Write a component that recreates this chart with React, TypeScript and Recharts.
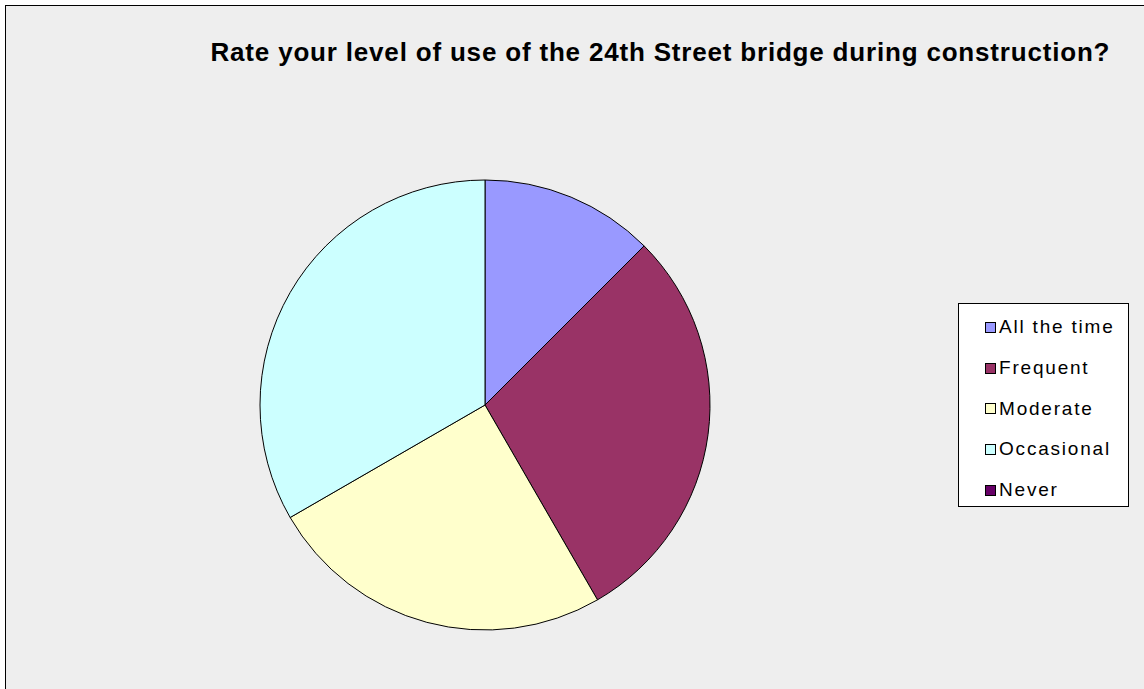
import { PieChart, Pie, Cell, Legend } from 'recharts';

const categories = ['All the time', 'Frequent', 'Moderate', 'Occasional', 'Never'];
const responses = [3, 7, 6, 8, 0];
const colors = ['#9999FF', '#993366', '#FFFFCC', '#CCFFFF', '#660066'];
const title = 'Rate your level of use of the 24th Street bridge during construction?';

const data = categories.map((name, i) => ({ name, value: responses[i] }));

function LegendBox() {
  return (
    <div
      style={{
        width: 171,
        height: 204,
        border: '1px solid #000',
        background: '#fff',
        boxSizing: 'border-box',
        paddingTop: 3,
        fontFamily: '"Liberation Sans", Arial, sans-serif',
        fontSize: 19,
        letterSpacing: 1.8,
        color: '#000',
      }}
    >
      {categories.map((c, i) => (
        <div key={c} style={{ display: 'flex', alignItems: 'center', height: 40.7, paddingLeft: 26 }}>
          <span
            style={{
              display: 'inline-block',
              width: 9,
              height: 9,
              background: colors[i],
              border: '1px solid #000',
              marginRight: 3,
              flexShrink: 0,
            }}
          />
          <span style={{ whiteSpace: 'nowrap' }}>{c}</span>
        </div>
      ))}
    </div>
  );
}

export default function App() {
  return (
    <div style={{ position: 'fixed', left: 0, top: 0, width: 1144, height: 689, background: '#fff', overflow: 'hidden' }}>
      <div
        style={{
          position: 'absolute',
          left: 5,
          top: 5,
          width: 1160,
          height: 700,
          background: '#EEEEEE',
          borderLeft: '1px solid #000',
          borderTop: '1px solid #000',
        }}
      />
      <div style={{ position: 'absolute', left: 0, top: 0 }}>
        <PieChart width={1144} height={689} margin={{ top: 0, right: 0, bottom: 0, left: 0 }}>
          <text
            x={660}
            y={61}
            textAnchor="middle"
            textLength={899}
            lengthAdjust="spacing"
            style={{ fontFamily: '"Liberation Sans", Arial, sans-serif', fontSize: 26, fontWeight: 'bold' }}
            fill="#000"
          >
            {title}
          </text>
          <Pie
            data={data}
            dataKey="value"
            nameKey="name"
            cx={485}
            cy={405}
            outerRadius={225}
            startAngle={90}
            endAngle={-270}
            stroke="#000"
            strokeWidth={1}
            isAnimationActive={false}
          >
            {data.map((d, i) => (
              <Cell key={d.name} fill={colors[i]} />
            ))}
          </Pie>
          <Legend content={<LegendBox />} wrapperStyle={{ left: 958, top: 303, width: 171 }} />
        </PieChart>
      </div>
    </div>
  );
}
